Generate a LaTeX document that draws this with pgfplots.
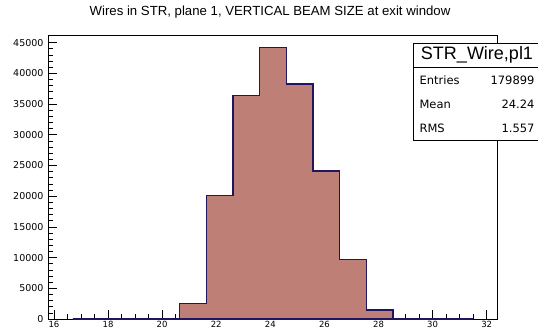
\documentclass[border=0pt]{standalone}
\usepackage{pgfplots}
\pgfplotsset{compat=1.18}
\usepackage{fontspec}
\setmainfont{DejaVu Sans}
\newfontfamily\titlefont{Liberation Sans}
\definecolor{histfill}{RGB}{190,128,118}
\definecolor{histline}{RGB}{32,22,95}
\begin{document}
\begin{tikzpicture}
\useasboundingbox (0pt,0pt) rectangle (538pt,335pt);
\begin{axis}[at={(48pt,16pt)}, anchor=south west, scale only axis,
  width=449pt, height=284pt,
  xmin=15.78, xmax=32.38, ymin=0, ymax=46250,
  axis line style={line width=0.9pt},
  xtick={16,18,...,32}, minor x tick num=3,
  ytick={0,5000,...,45000}, minor y tick num=4,
  tick align=inside, xtick pos=bottom, ytick pos=left,
  major tick length=9pt, minor tick length=5pt,
  tick style={black, line width=0.7pt},
  scaled y ticks=false,
  /pgf/number format/assume math mode=true,
  yticklabel style={/pgf/number format/fixed, /pgf/number format/1000 sep={}, font=\fontsize{9.5}{10}\selectfont, xshift=-1pt},
  xticklabel style={font=\fontsize{8.5}{9}\selectfont, yshift=1pt},
  clip=false,
]
\addplot[const plot mark left, fill=histfill, draw=histline, line width=1.3pt] coordinates {
(16.700,0) (17.687,0) (18.673,0) (19.660,0)
(20.647,2500) (21.633,20080) (22.620,36400) (23.607,44250)
(24.593,38270) (25.580,24100) (26.567,9720) (27.553,1470)
(28.540,0) (29.527,0) (30.513,0) (31.500,0)
} \closedcycle;
\end{axis}
\node[font=\titlefont\fontsize{13.2}{14}\selectfont] at (270pt,323pt) {Wires in STR, plane 1, VERTICAL BEAM SIZE at exit window};
\draw[fill=white, line width=0.8pt] (413.5pt,292pt) rectangle (538.5pt,195pt);
\draw[line width=0.8pt] (413.5pt,268pt) -- (538pt,268pt);
\node[font=\titlefont\fontsize{18}{19}\selectfont, inner sep=0pt] at (477pt,280pt) {STR\_Wire,pl1};
\node[anchor=west, font=\fontsize{11.5}{12}\selectfont] at (416pt,255pt) {Entries};
\node[anchor=east, font=\fontsize{11.5}{12}\selectfont] at (538pt,255pt) {179899};
\node[anchor=west, font=\fontsize{11.5}{12}\selectfont] at (416pt,231pt) {Mean};
\node[anchor=east, font=\fontsize{11.5}{12}\selectfont] at (538pt,231pt) {24.24};
\node[anchor=west, font=\fontsize{11.5}{12}\selectfont] at (416pt,207pt) {RMS};
\node[anchor=east, font=\fontsize{11.5}{12}\selectfont] at (538pt,207pt) {1.557};
\end{tikzpicture}
\end{document}
